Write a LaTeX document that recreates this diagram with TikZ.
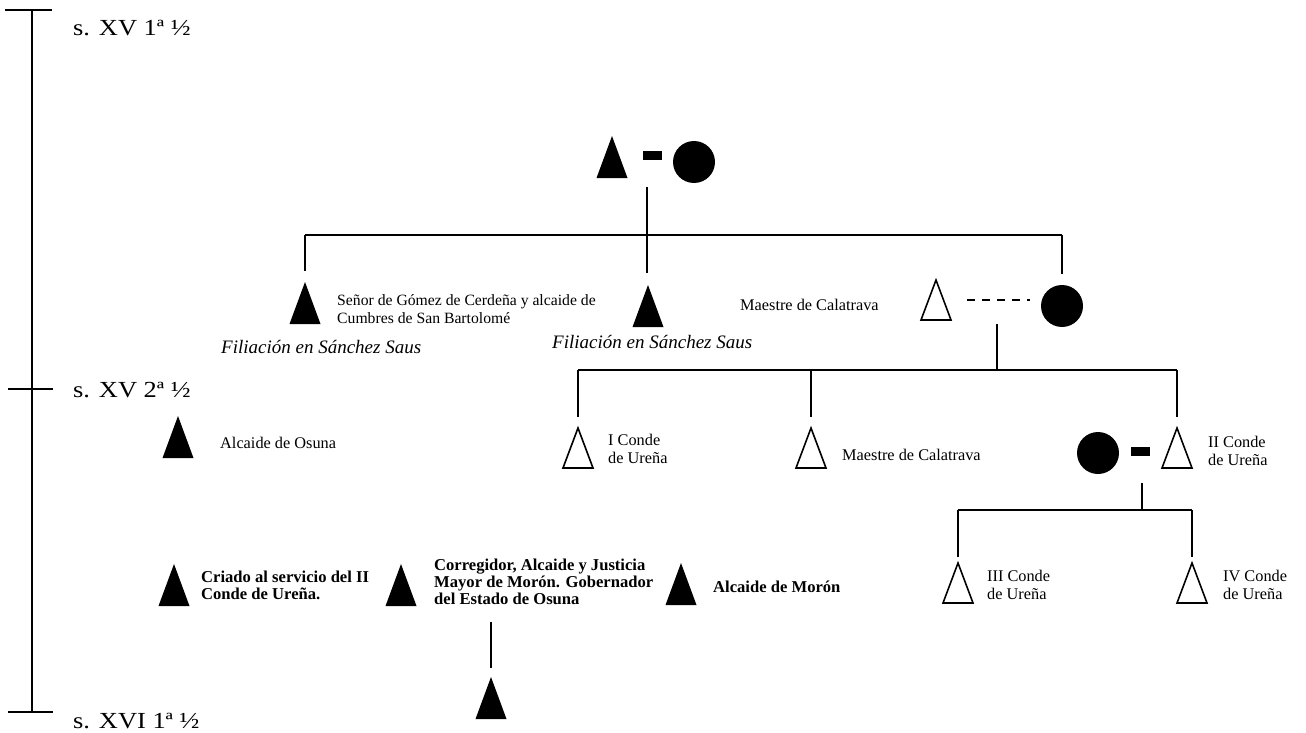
\documentclass[tikz,border=0pt]{standalone}
\usepackage{fontspec}
\setmainfont{Liberation Serif}
\newfontfamily\headfont[FakeStretch=1.15]{Liberation Serif}
\begin{document}
\begin{tikzpicture}[x=1pt,y=-1pt,
  ln/.style={line width=2pt},
  drop/.style={line width=2pt, shorten >=11pt},
  ftri/.style={minimum width=31pt, minimum height=42pt, inner sep=0pt, outer sep=0pt},
  otri/.style={minimum width=30pt, minimum height=40pt, inner sep=0pt, outer sep=0pt},
  fcirc/.style={circle, fill=black, minimum size=42pt, inner sep=0pt, outer sep=0pt},
  bar/.style={fill=black, minimum width=19pt, minimum height=9pt, inner sep=0pt},
  head/.style={anchor=base west, inner sep=0pt, font=\headfont\fontsize{23}{26}\selectfont},
  lab/.style={anchor=west, inner sep=0pt, align=left, font=\fontsize{16.3}{17.5}\selectfont},
  blab/.style={anchor=west, inner sep=0pt, align=left, font=\bfseries\fontsize{16.6}{17}\selectfont},
  ilab/.style={anchor=west, inner sep=0pt, font=\itshape\fontsize{19}{22}\selectfont},
]
\useasboundingbox (0,0) rectangle (1306,733);

% timeline
\coordinate (tt) at (32,10);
\coordinate (tm) at (32,389);
\coordinate (tb) at (32,712);
\coordinate (tt1) at (5,10);   \coordinate (tt2) at (52,10);
\coordinate (tm1) at (8,389);  \coordinate (tm2) at (53,389);
\coordinate (tb1) at (8,712);  \coordinate (tb2) at (53,712);
\draw[ln] (tt) -- (tb);
\draw[ln] (tt1) -- (tt2);
\draw[ln] (tm1) -- (tm2);
\draw[ln] (tb1) -- (tb2);
\node[head] (h1) at (73,36) {s. XV 1ª ½};
\node[head] (h2) at (73,397) {s. XV 2ª ½};
\node[head] (h3) at (73,728) {s. XVI 1ª ½};

% generation 1
\node[ftri] (t1) at (612,157) {};
\node[bar] (d1) at (652.5,155) {};
\node[fcirc] (c1) at (694,162) {};

% generation 2
\node[ftri] (t2a) at (305,303) {};
\node[lab, font=\fontsize{15.7}{17.5}\selectfont] (l2a) at (337,309) {Señor de Gómez de Cerdeña y alcaide de\\Cumbres de San Bartolomé};
\node[ilab] (f1) at (221,347) {Filiación en Sánchez Saus};
\node[ftri] (t2b) at (648,306) {};
\node[ilab] (f2) at (552,342) {Filiación en Sánchez Saus};
\node[lab] (l2c) at (740,305) {Maestre de Calatrava};
\node[otri] (o2) at (936,300) {};
\node[fcirc] (c2) at (1062,306) {};

% generation 3
\node[otri] (o3a) at (578,448) {};
\node[lab] (l3a) at (608,449) {I Conde\\de Ureña};
\node[otri] (o3b) at (811,448) {};
\node[lab] (l3b) at (842,455) {Maestre de Calatrava};
\node[fcirc] (c3) at (1098,453) {};
\node[bar] (d3) at (1140,451) {};
\node[otri] (o3c) at (1177,448) {};
\node[lab] (l3c) at (1208,451) {II Conde\\de Ureña};

% generation 4
\node[otri] (o4a) at (958,583) {};
\node[lab] (l4a) at (987,585) {III Conde\\de Ureña};
\node[otri] (o4b) at (1192,583) {};
\node[lab] (l4b) at (1223,585) {IV Conde\\de Ureña};

% left column
\node[ftri] (ta) at (178,437) {};
\node[lab] (la) at (220,443) {Alcaide de Osuna};
\node[ftri] (tb1n) at (174,585) {};
\node[blab] (lb1) at (201,585) {Criado al servicio del II\\Conde de Ureña.};
\node[ftri] (tb2n) at (401,585) {};
\node[blab] (lb2) at (434,582) {Corregidor, Alcaide y Justicia\\Mayor de Morón. Gobernador\\del Estado de Osuna};
\node[ftri] (tb3n) at (681,584) {};
\node[blab] (lb3) at (713,587) {Alcaide de Morón};
\node[ftri] (tbb) at (491,698) {};

% triangles
\foreach \n in {t1,t2a,t2b,ta,tb1n,tb2n,tb3n,tbb}
  \fill (\n.south west) -- (\n.south east) -- (\n.north) -- cycle;
\foreach \n in {o2,o3a,o3b,o3c,o4a,o4b}
  \draw[line width=1.6pt, line join=miter] (\n.south west) -- (\n.south east) -- (\n.north) -- cycle;

% connectors gen1 -> gen2
\coordinate (m1) at (647,187);
\coordinate (b1) at (647,235);
\draw[ln] (m1) -- (m1|-t2b.north) [shorten >=12pt];
\draw[ln] (t2a.north|-b1) -- (c2.north|-b1);
\draw[drop] (t2a.north|-b1) -- (t2a.north);
\draw[drop] (c2.north|-b1) -- (c2.north);

% gen2 couple -> gen3
\draw[line width=1.6pt, dash pattern=on 8pt off 7pt, shorten <=16pt, shorten >=11pt] (o2.east|-o2.center) -- (c2.west|-o2.center);
\coordinate (m2) at (997,324);
\coordinate (b2) at (997,370);
\draw[ln] (m2) -- (b2);
\draw[ln] (o3a.north|-b2) -- (o3c.north|-b2);
\draw[drop] (o3a.north|-b2) -- (o3a.north);
\draw[drop] (o3b.north|-b2) -- (o3b.north);
\draw[drop] (o3c.north|-b2) -- (o3c.north);

% gen3 couple -> gen4
\coordinate (m3) at (1142,483);
\coordinate (b3) at (1142,510);
\draw[ln] (m3) -- (b3);
\draw[ln] (o4a.north|-b3) -- (o4b.north|-b3);
\draw[drop, shorten >=6pt] (o4a.north|-b3) -- (o4a.north);
\draw[drop, shorten >=6pt] (o4b.north|-b3) -- (o4b.north);

% bottom descendant
\coordinate (v1) at (491,622);
\draw[ln, shorten >=9pt] (v1) -- (tbb.north);
\end{tikzpicture}
\end{document}
